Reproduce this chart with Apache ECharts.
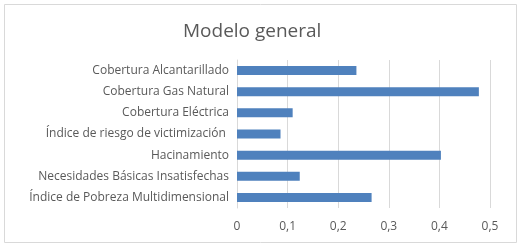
<!DOCTYPE html>
<html>
<head>
<meta charset="utf-8">
<script src="https://cdn.jsdelivr.net/npm/echarts@6/dist/echarts.min.js"></script>
<style>
  html, body { margin: 0; padding: 0; background: #fff; }
  #main { width: 521px; height: 247px; }
</style>
</head>
<body>
<div id="main"></div>
<script>
// categories bottom to top, as on the y axis
let categories = [
    'Índice de Pobreza Multidimensional',
    'Necesidades Básicas Insatisfechas',
    'Hacinamiento',
    'Índice de riesgo de victimización ',
    'Cobertura Eléctrica',
    'Cobertura Gas Natural',
    'Cobertura Alcantarillado'
];
let values = [0.266, 0.124, 0.403, 0.086, 0.110, 0.478, 0.236];
let xTicks = [0, 0.1, 0.2, 0.3, 0.4, 0.5];

let myChart = echarts.init(document.getElementById('main'));

let font = '"Open Sans", "Liberation Sans", sans-serif';

let options = {
    animation: false,
    title: {
        text: 'Modelo general',
        left: 178,
        top: 17,
        textStyle: { fontFamily: font, fontSize: 19, fontWeight: 'normal', color: '#595959' }
    },
    graphic: [{
        type: 'rect',
        shape: { x: 4.5, y: 4.5, width: 512, height: 238 },
        style: { fill: 'none', stroke: '#d9d9d9', lineWidth: 1 },
        silent: true
    }],
    grid: { left: 237, right: 31, top: 60, bottom: 39 },
    xAxis: {
        type: 'value',
        min: xTicks[0],
        max: xTicks[xTicks.length - 1],
        interval: 0.1,
        axisLine: { show: false },
        axisTick: { show: false },
        splitLine: { lineStyle: { color: '#d9d9d9', width: 1 } },
        axisLabel: {
            margin: 13,
            fontFamily: font, fontSize: 12, color: '#595959',
            formatter: function (v) { return String(Math.round(v * 10) / 10).replace('.', ','); }
        }
    },
    yAxis: {
        type: 'category',
        data: categories,
        axisLine: { show: true, lineStyle: { color: '#d9d9d9' } },
        axisTick: { show: false },
        axisLabel: { margin: 8, fontFamily: font, fontSize: 12, color: '#595959' }
    },
    series: [{
        type: 'bar',
        data: values,
        barWidth: 9,
        itemStyle: { color: '#4f81bd' }
    }]
};
myChart.setOption(options);
</script>
</body>
</html>
